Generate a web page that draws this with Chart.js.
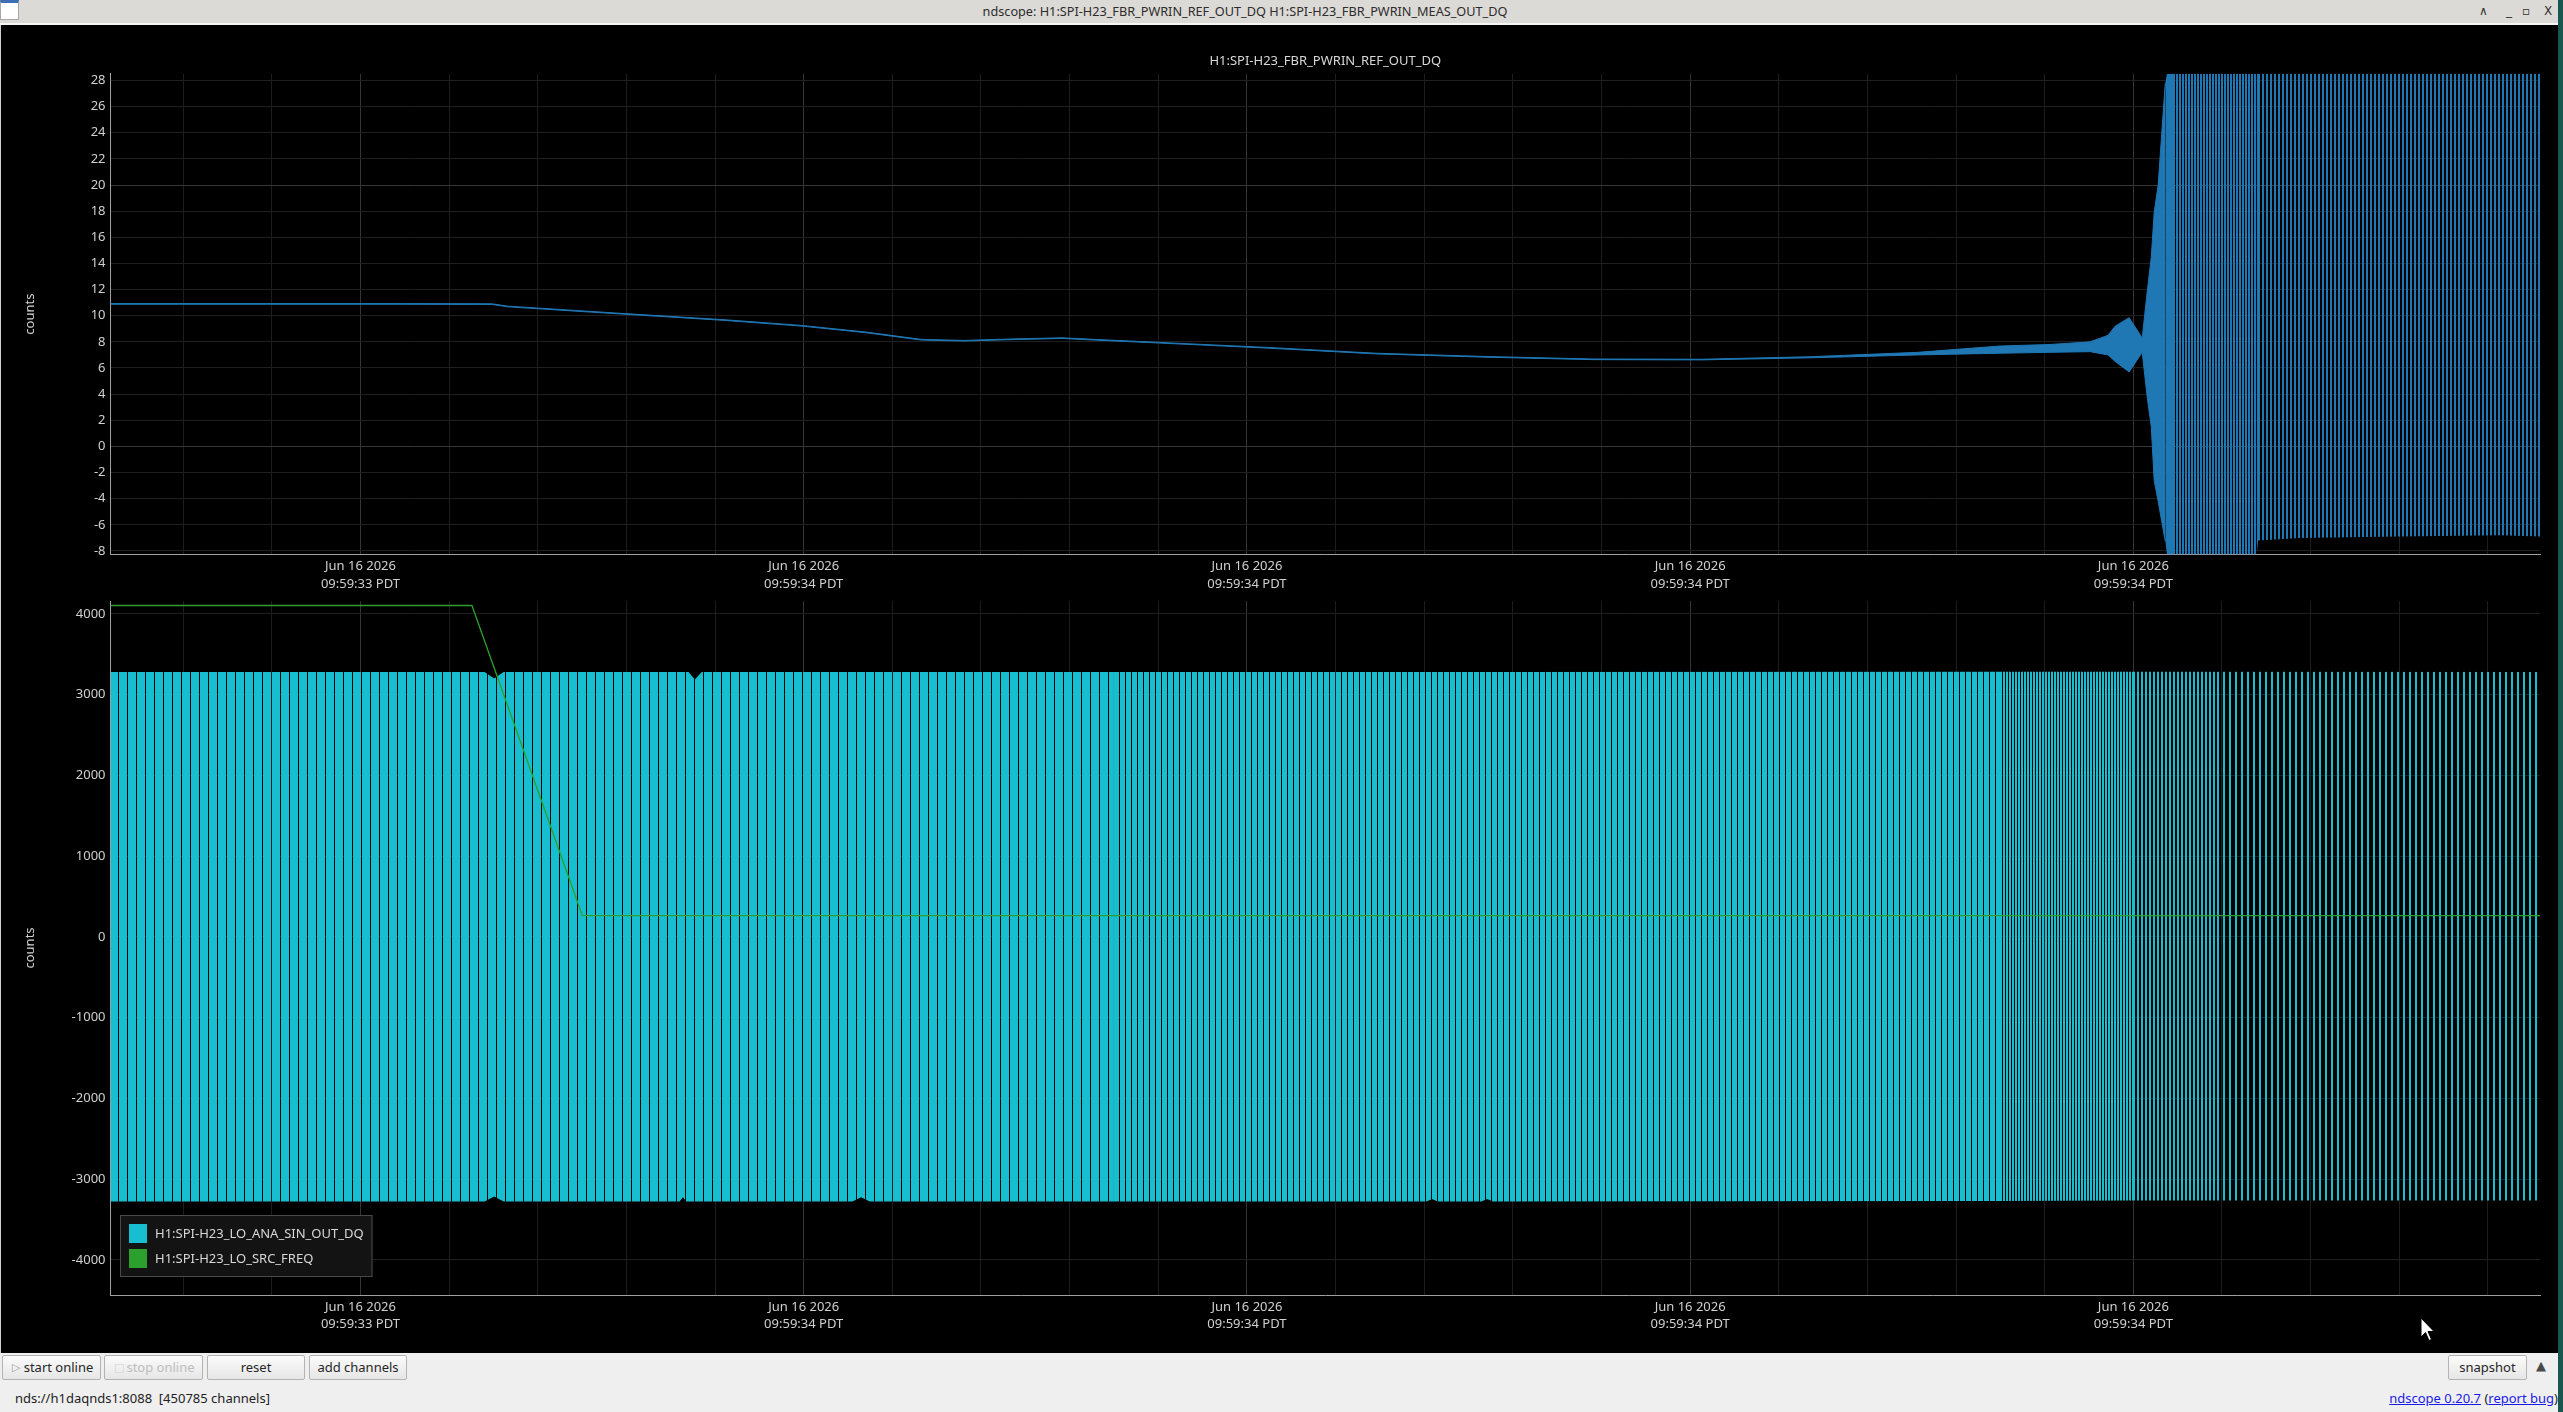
<!DOCTYPE html>
<html>
<head>
<meta charset="utf-8">
<title>ndscope</title>
<script src="https://cdn.jsdelivr.net/npm/chart.js@4.4.1/dist/chart.umd.min.js"></script>
<style>
  html, body { margin: 0; padding: 0; }
  body { width: 2563px; height: 1412px; position: relative; overflow: hidden; background: #efefef;
         font-family: "Noto Sans", sans-serif; font-size: 13px; color: #222; }
  #titlebar { position: absolute; left: 0; top: 0; width: 2563px; height: 23px; background: #dcdad6;
              border-bottom: 2px solid #f6f6f6; }
  #titlebar .text { position: absolute; left: 0; top: 0; width: 2490px; line-height: 23px; text-align: center; color: #2c2c2c; font-size: 12.7px; }
  #titlebar .icon { position: absolute; left: 0; top: 0; width: 17px; height: 16px; background: #fff; border: 1px solid #a8a8a8; border-top: 3px solid #3d6fb5; }
  #titlebar .ctl { position: absolute; top: 0; line-height: 22px; font-size: 12px; color: #333; font-family: "DejaVu Sans", sans-serif; }
  #scope { position: absolute; left: 0; top: 25px; width: 2558px; height: 1328px; background: #000; border-left: 1px solid #cfcfcf; box-sizing: border-box; }
  #edge { position: absolute; left: 2558px; top: 0; width: 5px; height: 1412px; background: #17574f; }
  .box { position: absolute; left: 0; width: 2558px; }
  .btn { position: absolute; top: 1355px; height: 25px; box-sizing: border-box; border: 1px solid #b3b3b3; border-radius: 2px;
         background: linear-gradient(#fbfbfb, #e6e6e6); line-height: 23px; text-align: center; color: #262626; }
  .btn.off { color: #bcbcbc; }
  .btn .ico { position: absolute; left: 9px; top: 0; color: #9a9a9a; font-family: "DejaVu Sans", sans-serif; font-size: 11px; }
  .btn.off .ico { color: #d0d0d0; }
  #status { position: absolute; left: 15px; top: 1389px; line-height: 18px; white-space: pre; }
  #about { position: absolute; right: 5px; top: 1389px; line-height: 18px; }
  #about a { color: #1a1ae6; }
  #more { position: absolute; left: 2536px; top: 1358px; color: #4a4a4a; font-family: "DejaVu Sans", sans-serif; font-size: 13px; }
  #cursor { position: absolute; left: 2420px; top: 1317px; }
</style>
</head>
<body>
<div id="titlebar">
  <div class="icon"></div>
  <div class="text">ndscope: H1:SPI-H23_FBR_PWRIN_REF_OUT_DQ H1:SPI-H23_FBR_PWRIN_MEAS_OUT_DQ</div>
  <span class="ctl" style="left:2479px">&#8743;</span>
  <span class="ctl" style="left:2506px">_</span>
  <span class="ctl" style="left:2522px">&#9643;</span>
  <span class="ctl" style="left:2544px">X</span>
</div>
<div id="scope"></div>
<div class="box" style="top:25px;height:570px"><canvas id="refChart"></canvas></div>
<div class="box" style="top:595px;height:758px"><canvas id="sinChart"></canvas></div>
<div id="edge"></div>

<div class="btn" style="left:2px;width:99px;padding-left:14px"><span class="ico">&#9655;</span>start online</div>
<div class="btn off" style="left:104px;width:99px;padding-left:14px"><span class="ico">&#9633;</span>stop online</div>
<div class="btn" style="left:207px;width:98px">reset</div>
<div class="btn" style="left:309px;width:98px">add channels</div>
<div id="status">nds://h1daqnds1:8088  [450785 channels]</div>
<div class="btn" style="left:2448px;width:79px">snapshot</div>
<div id="more">&#9650;</div>
<div id="about"><a href="#">ndscope 0.20.7</a> (<a href="#">report bug</a>)</div>
<svg id="cursor" width="16" height="26" viewBox="0 0 16 26"><path d="M1 1 L1 20 L5.5 15.5 L9 23.5 L11.5 22.5 L8 14.5 L14 14.5 Z" fill="#fff" stroke="#000" stroke-width="1"/></svg>

<script>
// Time axis (seconds after 09:59:00 PDT)
const tMin = 33.6872;
const tMax = 34.7835;
const timeTicks = [33.8, 34.0, 34.2, 34.4, 34.6];
const timeLabels = ['09:59:33 PDT', '09:59:34 PDT', '09:59:34 PDT', '09:59:34 PDT', '09:59:34 PDT'];
const dateLabel = 'Jun 16 2026';

// Top panel: H1:SPI-H23_FBR_PWRIN_REF_OUT_DQ (upper / lower envelope of the trace)
const refName = 'H1:SPI-H23_FBR_PWRIN_REF_OUT_DQ';
const refTime = [33.6872, 33.8178, 33.8593, 33.8666, 33.9157, 33.9645, 33.9988, 34.0281, 34.0529, 34.0724,
  34.0918, 34.1166, 34.1310, 34.1604, 34.2096, 34.2583, 34.3075, 34.3562, 34.4049, 34.4541,
  34.5028, 34.5398, 34.5624, 34.5805, 34.5886, 34.5918, 34.5981, 34.6040, 34.6063, 34.6081,
  34.6094, 34.6112, 34.6144, 34.6162, 34.6550, 34.6563, 34.6753, 34.7204, 34.7655, 34.7835];
const refUpper = [10.93, 10.93, 10.91, 10.73, 10.2, 9.69, 9.26, 8.75, 8.19, 8.11,
  8.21, 8.31, 8.19, 7.96, 7.57, 7.13, 6.88, 6.69, 6.67, 6.86,
  7.2, 7.68, 7.8, 8.0, 8.5, 9.2, 9.85, 8.3, 11.9, 14.5,
  17.9, 20.0, 27.8, 29.5, 29.5, 29.5, 29.5, 29.5, 29.5, 29.5];
const refLower = [10.88, 10.88, 10.86, 10.68, 10.15, 9.64, 9.21, 8.7, 8.14, 8.06,
  8.16, 8.26, 8.14, 7.91, 7.52, 7.08, 6.83, 6.64, 6.62, 6.78,
  7.0, 7.13, 7.2, 7.25, 7.0, 6.5, 5.7, 7.2, 3.7, 1.5,
  -2.6, -4.2, -7.25, -9.5, -9.5, -7.2, -7.0, -6.9, -6.8, -6.9];
const refYTicks = [-8, -6, -4, -2, 0, 2, 4, 6, 8, 10, 12, 14, 16, 18, 20, 22, 24, 26, 28];

// Bottom panel: H1:SPI-H23_LO_ANA_SIN_OUT_DQ (envelope) and H1:SPI-H23_LO_SRC_FREQ
const sinName = 'H1:SPI-H23_LO_ANA_SIN_OUT_DQ';
const sinTime = [33.6872, 33.8560, 33.8603, 33.8646, 33.9440, 33.9455, 33.9470, 33.9480, 33.9509, 33.9540,
  34.0220, 34.0259, 34.0298, 34.1400, 34.2810, 34.2836, 34.2860, 34.3058, 34.3084, 34.3110,
  34.5400, 34.6000, 34.7835];
const sinUpper = [3282, 3282, 3200, 3282, 3282, 3282, 3282, 3282, 3190, 3282,
  3282, 3282, 3282, 3282, 3282, 3282, 3282, 3282, 3282, 3282,
  3285, 3284, 3282];
const sinLower = [-3278, -3278, -3215, -3278, -3278, -3225, -3278, -3278, -3278, -3278,
  -3278, -3225, -3278, -3276, -3278, -3245, -3278, -3278, -3245, -3278,
  -3270, -3265, -3265];
const freqName = 'H1:SPI-H23_LO_SRC_FREQ';
const freqTime = [33.6872, 33.8503, 33.9001, 34.7835];
const freqValue = [4105, 4105, 265, 265];
const sinYTicks = [-4000, -3000, -2000, -1000, 0, 1000, 2000, 3000, 4000];

// Colours and fill textures (stripe period / lit pixels per zone)
const blue = '#1f77b4';
const cyan = '#17becf';
const green = '#2ca02c';
const refZones = [{ to: 34.6180, period: 1, on: 1 }, { to: 34.6563, period: 3, on: 2 }, { to: 34.79, period: 4, on: 2 }];
const sinZones = [{ to: 34.14, period: 9, on: 8 }, { to: 34.54, period: 6, on: 5 }, { to: 34.60, period: 3, on: 2 },
  { to: 34.6378, period: 4, on: 2 }, { to: 34.79, period: 6, on: 2 }];

Chart.defaults.font.family = '"Noto Sans", sans-serif';
Chart.defaults.font.size = 13;
Chart.defaults.color = '#d0d0d0';

const minorTicks = [];
for (let k = 0; k <= 26; k++) minorTicks.push(+(33.72 + k * 0.04).toFixed(2));
const majorIndex = v => timeTicks.findIndex(t => Math.abs(t - v) < 1e-6);

function points(xs, ys) {
  return xs.map((x, i) => ({ x: x, y: ys[i] }));
}

// Stripe texture built along the x scale, so the fill looks like the dense trace
function stripes(chart, key, color, zones) {
  if (!chart.chartArea) return color;
  chart.$stripes = chart.$stripes || {};
  if (chart.$stripes[key]) return chart.$stripes[key];
  const xs = chart.scales.x;
  const c = document.createElement('canvas');
  c.width = Math.ceil(chart.width);
  c.height = 1;
  const g = c.getContext('2d');
  g.fillStyle = color;
  let from = Math.floor(xs.left);
  zones.forEach(z => {
    const to = Math.min(xs.getPixelForValue(z.to), xs.right + 2);
    for (let px = from; px < to; px += z.period) g.fillRect(px, 0, Math.min(z.on, to - px), 1);
    from = Math.max(from, Math.round(to));
  });
  chart.$stripes[key] = chart.ctx.createPattern(c, 'repeat');
  return chart.$stripes[key];
}

function timeAxis(axisHeight) {
  return {
    type: 'linear', min: tMin, max: tMax,
    border: { color: '#a0a0a0' },
    grid: { drawTicks: false, color: c => majorIndex(c.tick.value) >= 0 ? '#343434' : '#1e1e1e' },
    ticks: {
      autoSkip: false, maxRotation: 0, minRotation: 0, padding: 3, color: '#d0d0d0',
      font: { lineHeight: 1.37 },
      callback: v => { const i = majorIndex(v); return i < 0 ? '' : [dateLabel, timeLabels[i]]; }
    },
    afterBuildTicks: s => { s.ticks = minorTicks.map(v => ({ value: v })); },
    afterFit: s => { s.height = axisHeight; s.paddingLeft = 0; s.paddingRight = 0; }
  };
}

function countsAxis(ticks, min, max, majorEvery) {
  return {
    min: min, max: max,
    border: { color: '#a0a0a0' },
    grid: { drawTicks: false, color: c => (majorEvery && c.tick.value % majorEvery === 0) ? '#363636' : '#1f1f1f' },
    ticks: { autoSkip: false, padding: 5, color: '#d0d0d0', callback: v => String(v) },
    afterBuildTicks: s => { s.ticks = ticks.map(v => ({ value: v })); },
    afterFit: s => { s.width = 110.5; s.paddingTop = 0; s.paddingBottom = 0; },
    title: { display: true, text: 'counts', color: '#d0d0d0', padding: { top: 22, bottom: 0 } }
  };
}

// Legend box inside the lower plot
const boxLegend = {
  id: 'boxLegend',
  afterDraw(chart) {
    const items = chart.data.datasets.filter(d => d.label);
    const { ctx, chartArea } = chart;
    const left = chartArea.left + 9.5, top = chartArea.bottom - 80;
    ctx.save();
    ctx.fillStyle = '#131313';
    ctx.fillRect(left, top, 252.5, 62);
    ctx.strokeStyle = '#4a4a4a';
    ctx.lineWidth = 1;
    ctx.strokeRect(left + 0.5, top + 0.5, 251.5, 61);
    ctx.font = '13px "Noto Sans"';
    ctx.textBaseline = 'middle';
    items.forEach((d, i) => {
      const y = top + 9 + i * 25;
      ctx.fillStyle = d.swatch;
      ctx.fillRect(left + 9, y, 18, 19);
      ctx.fillStyle = '#d8d8d8';
      ctx.fillText(d.label, left + 35, y + 10.5);
    });
    ctx.restore();
  }
};

const quiet = c => (refUpper[c.p0DataIndex] - refLower[c.p0DataIndex] > 30 ? 'rgba(0,0,0,0)' : blue);

new Chart(document.getElementById('refChart'), {
  type: 'line',
  data: {
    datasets: [
      { data: points(refTime, refUpper), borderColor: blue, borderWidth: 1, fill: '+1',
        backgroundColor: c => stripes(c.chart, 'ref', blue, refZones), segment: { borderColor: quiet } },
      { data: points(refTime, refLower), borderColor: blue, borderWidth: 1, fill: false,
        segment: { borderColor: quiet } }
    ]
  },
  options: {
    responsive: true, maintainAspectRatio: false, animation: false,
    layout: { padding: { left: 0, right: 18, top: 0, bottom: 0 } },
    elements: { point: { radius: 0 }, line: { tension: 0 } },
    plugins: {
      legend: { display: false }, tooltip: { enabled: false },
      title: { display: true, text: refName, color: '#d8d8d8', fullSize: false,
               font: { size: 13, weight: 'normal', lineHeight: 1.2 }, padding: { top: 28, bottom: 5.2 } }
    },
    scales: { x: timeAxis(40.5), y: countsAxis(refYTicks, -8.27, 28.51, 20) }
  }
});

new Chart(document.getElementById('sinChart'), {
  type: 'line',
  data: {
    datasets: [
      { label: sinName, swatch: cyan, data: points(sinTime, sinUpper), borderWidth: 0, borderColor: cyan, fill: '+1',
        backgroundColor: c => stripes(c.chart, 'sin', cyan, sinZones) },
      { data: points(sinTime, sinLower), borderWidth: 0, borderColor: cyan, fill: false },
      { label: freqName, swatch: green, data: points(freqTime, freqValue), borderColor: green, borderWidth: 1.3,
        fill: false, order: -1 }
    ]
  },
  options: {
    responsive: true, maintainAspectRatio: false, animation: false,
    layout: { padding: { left: 0, right: 18, top: 6, bottom: 0 } },
    elements: { point: { radius: 0 }, line: { tension: 0 } },
    plugins: { legend: { display: false }, tooltip: { enabled: false } },
    scales: { x: timeAxis(58), y: countsAxis(sinYTicks, -4435, 4161, 0) }
  },
  plugins: [boxLegend]
});
</script>
</body>
</html>
